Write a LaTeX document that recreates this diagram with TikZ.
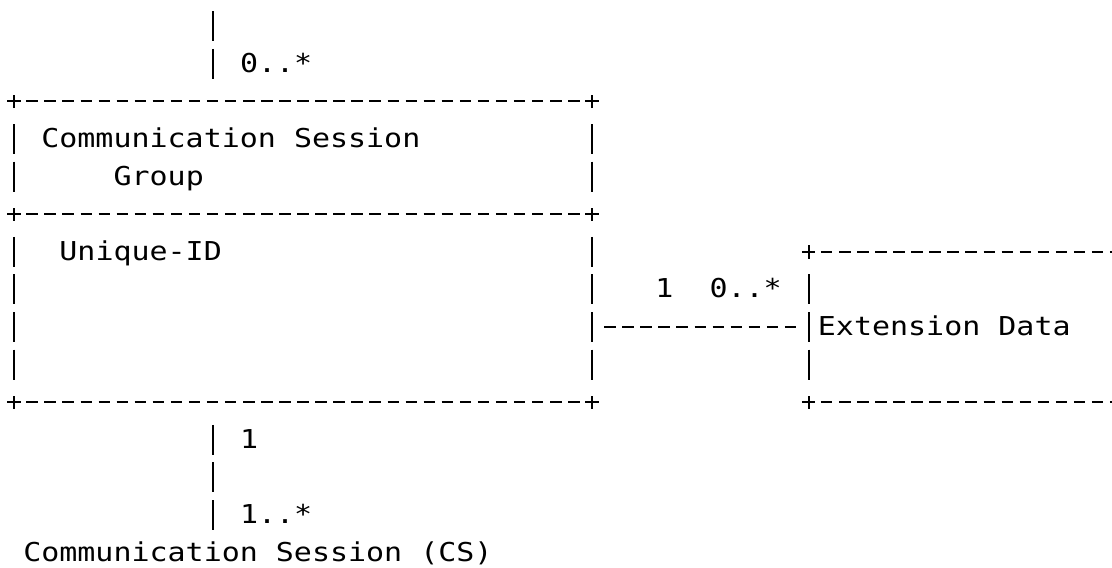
\documentclass[tikz,border=0pt]{standalone}
\usepackage{fontspec}
\newfontfamily\asciifont[FakeStretch=1.153]{DejaVu Sans Mono}
\newcommand{\asciitext}{\asciifont\fontsize{19.5pt}{28.2pt}\selectfont}
\tikzset{
  txt/.style={font=\asciitext, inner sep=0pt, anchor=west, text height=20.4pt, text depth=7.8pt},
  frame/.style={inner sep=0pt, outer sep=0pt},
  hbar/.style={line width=1.5pt, dash pattern=on 8.6pt off 4.945pt, dash phase=4.3pt},
  vbar/.style={line width=1.5pt, dash pattern=on 22.5pt off 5.7pt, dash phase=25.35pt},
  side/.style={vbar, shorten <=14.1pt, shorten >=14.1pt},
  link/.style={hbar, dash phase=0pt, shorten <=9.245pt, shorten >=9.245pt},
  corner/.style={line width=1.5pt}
}
\begin{document}
\begin{tikzpicture}[x=13.545pt, y=-28.2pt]
  \useasboundingbox (-0.775,-0.699) rectangle (60.797,14.407);
  \clip (-0.775,-0.699) rectangle (60.797,14.407);

  % 类框
  \node[frame, minimum width=433.44pt, minimum height=84.6pt] (head) at (16,3.5) {};
  \node[frame, minimum width=433.44pt, minimum height=141pt] (body) at (16,7.5) {};
  \node[frame, minimum width=243.81pt, minimum height=112.8pt] (ext) at (53,8) {};

  % 文字
  \node[txt] (headname) at (1.5,3) {Communication Session};
  \node[txt] (headgroup) at (5.5,4) {Group};
  \node[txt] (uid) at (2.5,6) {Unique-ID};
  \node[txt] (extname) at (44.5,8) {Extension Data};
  \node[txt] (cs) at (0.5,14) {Communication Session (CS)};

  % 多重性
  \node[txt] (mtop) at (12.5,1) {0..*};
  \node[txt] (mlow) at (12.5,11) {1};
  \node[txt] (mcs) at (12.5,13) {1..*};
  \node[txt] (mleft) at (35.5,7) {1};
  \node[txt] (mright) at (38.5,7) {0..*};

  \coordinate (upin) at (11,-0.5);

  % 边框
  \draw[hbar] (head.north west) -- (head.north east);
  \draw[hbar] (head.south west) -- (head.south east);
  \draw[hbar] (body.south west) -- (body.south east);
  \draw[hbar] (ext.north west) -- (ext.north east);
  \draw[hbar] (ext.south west) -- (ext.south east);
  \draw[side] (head.north west) -- (head.south west);
  \draw[side] (head.north east) -- (head.south east);
  \draw[side] (body.north west) -- (body.south west);
  \draw[side] (body.north east) -- (body.south east);
  \draw[side] (ext.north west) -- (ext.south west);
  \foreach \c in {head.north west, head.north east, body.north west, body.north east,
                  body.south west, body.south east, ext.north west, ext.south west}
    \draw[corner] (\c) +(-5pt,0) -- +(5pt,0) +(0,-5pt) -- +(0,5pt);

  % 连线
  \draw[vbar, shorten >=14.1pt] (upin) -- (upin |- head.north);
  \draw[vbar, shorten <=14.1pt] (upin |- body.south) -- (upin |- cs.north);
  \draw[link] (body.east |- extname.west) -- (ext.west |- extname.west);
\end{tikzpicture}
\end{document}
